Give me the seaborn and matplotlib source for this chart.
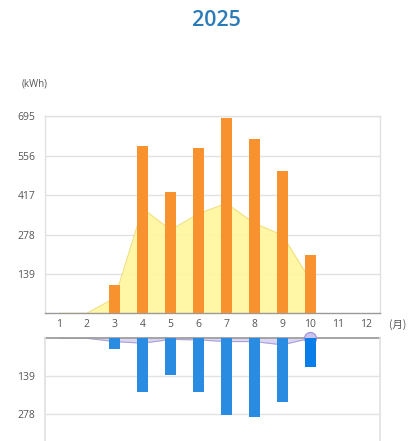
#!/usr/bin/env python3
"""Monthly generation / consumption chart for 2025."""

import seaborn as sns
import pandas as pd
import matplotlib.pyplot as plt

# DATA
months = [1, 2, 3, 4, 5, 6, 7, 8, 9, 10, 11, 12]
gen_bars = [0, 0, 100, 591, 429, 584, 691, 614, 502, 205, 0, 0]
gen_area = [0, 0, 54, 370, 294, 352, 388, 318, 276, 118]
use_bars = [0, 0, 38, 197, 135, 197, 279, 289, 235, 106, 0, 0]
use_area = [0, 0, 12, 18, 4, 6, 12, 12, 24, 0]
top_ticks = [0, 139, 278, 417, 556, 695]
bottom_ticks = [139, 278]

sns.set_theme(style="white")
plt.rcParams["font.family"] = ["Open Sans", "Noto Sans CJK JP", "DejaVu Sans"]

fig = plt.figure(figsize=(4.11, 4.41), dpi=100)
ax1 = fig.add_axes([0.1095, 0.2896, 0.815, 0.4463])
ax2 = fig.add_axes([0.1095, 0.0, 0.815, 0.2329])

grid_c = "#e2e2e2"
text_c = "#555555"

# TOP: generation
df_top = pd.DataFrame({"month": [str(m) for m in months], "kwh": gen_bars})
xs = list(range(len(gen_area)))
ax1.fill_between(xs, gen_area, color="#fff59c", alpha=0.9, zorder=1, linewidth=0)
sns.lineplot(x=xs, y=gen_area, ax=ax1, color="#f0e07a", linewidth=0.8, zorder=2)
sns.barplot(data=df_top, x="month", y="kwh", ax=ax1, color="#f7922e",
            width=0.4, linewidth=0, saturation=1, zorder=3)
ax1.set_xlim(-0.5, 11.5)
ax1.set_ylim(0, 695)
ax1.set_yticks(top_ticks[1:])
ax1.set_yticklabels([str(t) for t in top_ticks[1:]])
for t in top_ticks[1:]:
    ax1.axhline(t, color=grid_c, linewidth=1, zorder=0)
ax1.set_xlabel("")
ax1.set_ylabel("")
ax1.tick_params(axis="both", labelsize=7.5, colors=text_c, length=0, pad=4)
ax1.tick_params(axis="y", length=3, color="#bbbbbb")
for s in ["left", "right", "top"]:
    ax1.spines[s].set_color(grid_c)
    ax1.spines[s].set_linewidth(1)
ax1.spines["bottom"].set_color("#999999")
ax1.spines["bottom"].set_linewidth(1)

# BOTTOM: consumption (downwards)
df_bot = pd.DataFrame({"month": [str(m) for m in months], "kwh": use_bars})
ax2.fill_between(xs, use_area, color="#d6d2f2", alpha=0.9, zorder=1, linewidth=0)
sns.lineplot(x=xs, y=use_area, ax=ax2, color="#a9a2da", linewidth=0.8, zorder=2)
bar_cols = ["#2a8ce0"] * 9 + ["#0a7ee8", "#2a8ce0", "#2a8ce0"]
sns.barplot(data=df_bot, x="month", y="kwh", ax=ax2, hue="month", palette=bar_cols,
            legend=False, width=0.4, linewidth=0, saturation=1, zorder=3)
# hover marker on the last month
ax2.scatter([9], [0], s=75, color="#c9c3ee", edgecolor="#9a90d8", linewidth=0.8,
            zorder=2.5, clip_on=False)
ax2.set_xlim(-0.5, 11.5)
ax2.set_ylim(376, 0)
ax2.set_yticks(bottom_ticks)
ax2.set_yticklabels([str(t) for t in bottom_ticks])
for t in bottom_ticks:
    ax2.axhline(t, color=grid_c, linewidth=1, zorder=0)
ax2.set_xticks([])
ax2.set_xlabel("")
ax2.set_ylabel("")
ax2.tick_params(axis="y", labelsize=7.5, colors=text_c, length=3, color="#bbbbbb", pad=4)
for s in ["left", "right"]:
    ax2.spines[s].set_color(grid_c)
ax2.spines["bottom"].set_visible(False)
ax2.spines["top"].set_color("#999999")
ax2.spines["top"].set_zorder(2)

# TEXT
fig.text(0.526, 0.953, "2025", ha="center", va="center", fontsize=15.5,
         fontweight="semibold", color="#2b7bb9")
fig.text(0.085, 0.81, "(kWh)", ha="center", va="center", fontsize=7, color=text_c)
fig.text(0.968, 0.265, "(月)", ha="center", va="center", fontsize=7.5, color=text_c,
         family=["Noto Sans CJK JP", "DejaVu Sans"])

fig.savefig("out.png", dpi=100)
